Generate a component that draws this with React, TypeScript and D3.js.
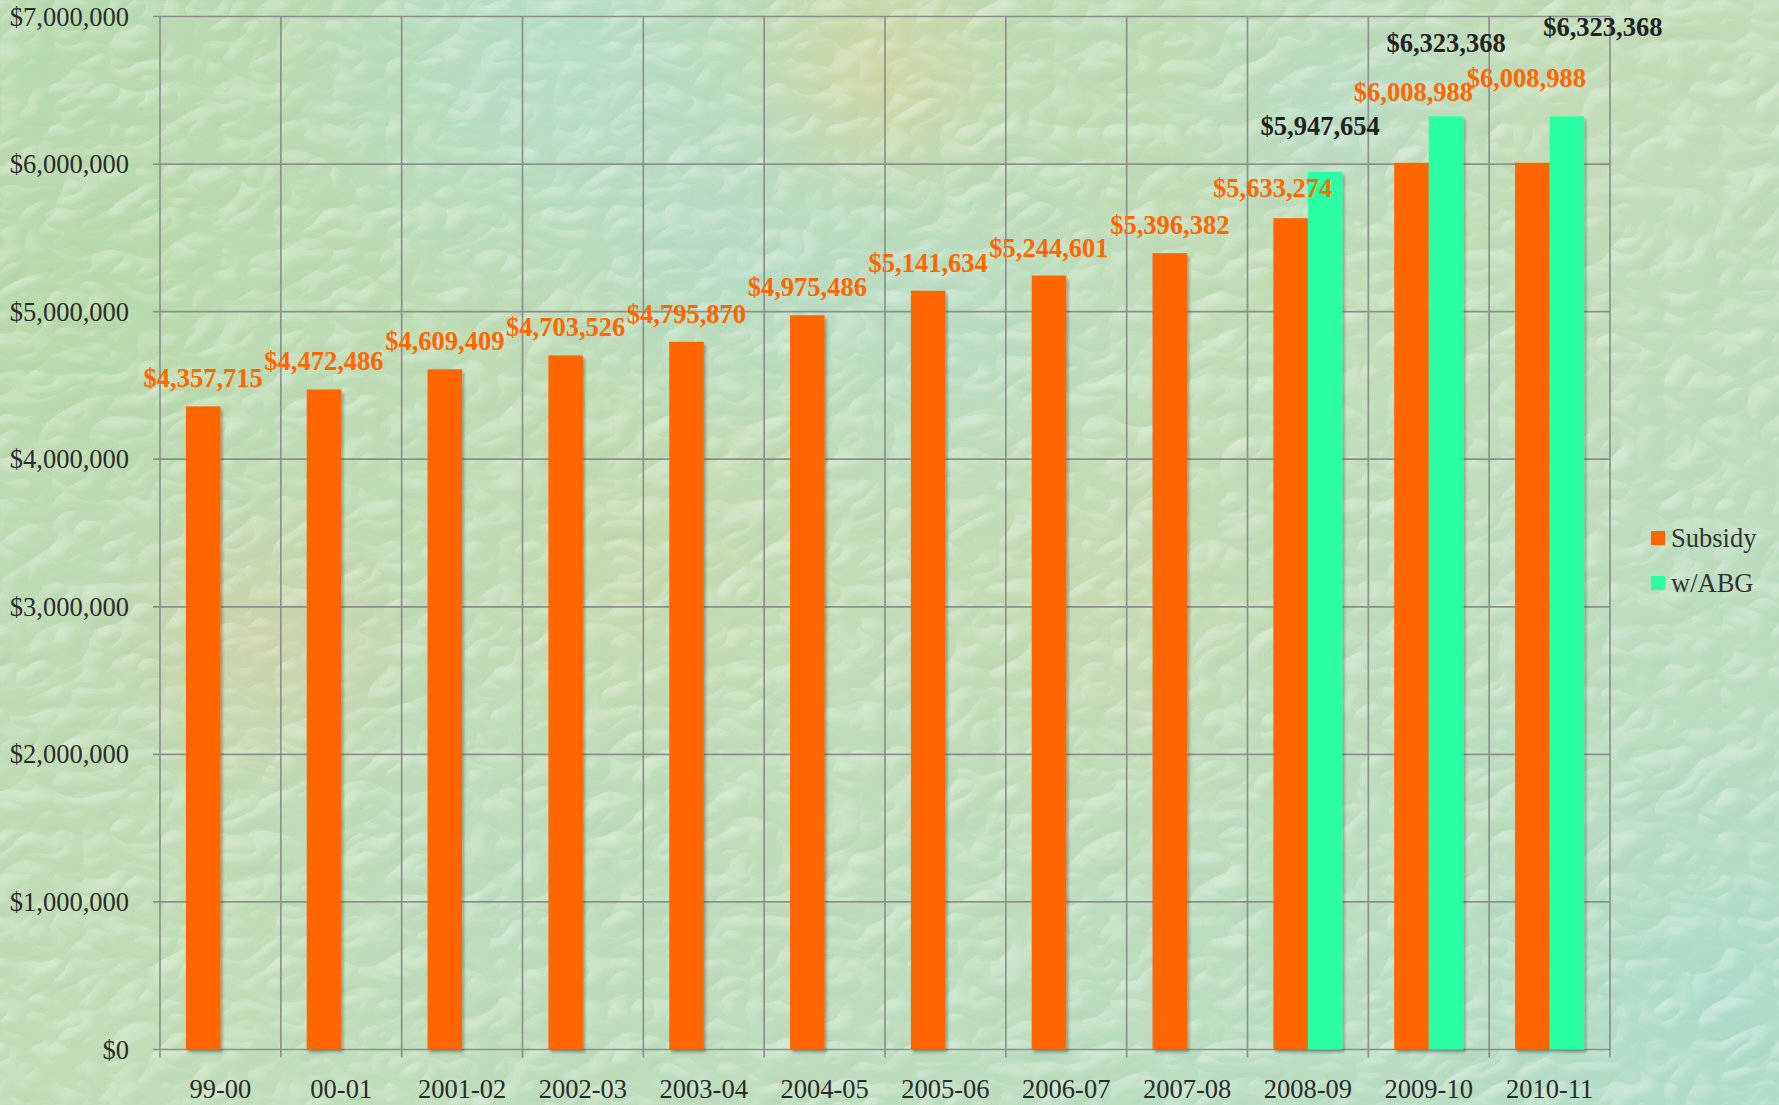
import React from "react";
import * as d3 from "d3";

// fiscal years on the x axis
const categories = [
  "99-00",
  "00-01",
  "2001-02",
  "2002-03",
  "2003-04",
  "2004-05",
  "2005-06",
  "2006-07",
  "2007-08",
  "2008-09",
  "2009-10",
  "2010-11",
];

const seriesNames = ["Subsidy", "w/ABG"];

const subsidy = [
  4357715, 4472486, 4609409, 4703526, 4795870, 4975486, 5141634, 5244601,
  5396382, 5633274, 6008988, 6008988,
];

const withAbg = [
  null, null, null, null, null, null, null, null, null, 5947654, 6323368,
  6323368,
];

const yTicks = [0, 1000000, 2000000, 3000000, 4000000, 5000000, 6000000, 7000000];

// hand placed label nudges from the original: [dx, gap above bar]
const subsidyLabelNudge = [
  [0, 19], [0, 19], [0, 19], [0, 19], [0, 19], [0, 19],
  [0, 19], [0, 19], [0, 19], [-18, 21], [2, 62], [-6, 76],
];
const abgLabelNudge = [
  [0, 19], [0, 19], [0, 19], [0, 19], [0, 19], [0, 19],
  [0, 19], [0, 19], [0, 19], [-5, 37], [0, 64], [36, 80],
];

const W = 1779;
const H = 1105;
const plot = { left: 160, right: 1610, top: 16.5, bottom: 1049.5 };
const colors = { Subsidy: "#ff6600", "w/ABG": "#29ffa3" };
const font = '"Liberation Serif", "Times New Roman", serif';
const gridColor = "#8f8f8f";

const money = (v) => "$" + d3.format(",")(v);

// soft coloured patches of the textured backdrop
const blotches = [
  { cx: 560, cy: 60, r: 280, c: "#b2e0dc", o: 0.55 },
  { cx: 880, cy: 70, r: 150, c: "#e2d39a", o: 0.5 },
  { cx: 740, cy: 260, r: 200, c: "#b0dcd8", o: 0.45 },
  { cx: 260, cy: 640, r: 170, c: "#dcc89c", o: 0.45 },
  { cx: 960, cy: 330, r: 220, c: "#b2ddd6", o: 0.4 },
  { cx: 1340, cy: 110, r: 180, c: "#b2ddd8", o: 0.4 },
  { cx: 1120, cy: 620, r: 260, c: "#d4d8a6", o: 0.35 },
  { cx: 650, cy: 560, r: 200, c: "#d0d8a2", o: 0.35 },
  { cx: 1720, cy: 1000, r: 280, c: "#a6dccf", o: 0.6 },
  { cx: 90, cy: 300, r: 220, c: "#b4d8a0", o: 0.45 },
  { cx: 480, cy: 880, r: 240, c: "#b4dcc8", o: 0.35 },
];

export default function App() {
  const x0 = d3.scaleBand().domain(categories).range([plot.left, plot.right]).padding(0);
  const x1 = d3
    .scaleBand()
    .domain(seriesNames)
    .range([0, x0.bandwidth()])
    .paddingInner(0)
    .paddingOuter(0.75);
  const y = d3.scaleLinear().domain([0, 7000000]).range([plot.bottom, plot.top]);

  const series = [
    { name: "Subsidy", values: subsidy, nudge: subsidyLabelNudge, labelColor: "#ff6600" },
    { name: "w/ABG", values: withAbg, nudge: abgLabelNudge, labelColor: "#222222" },
  ];

  const bounds = categories.map((c) => x0(c)).concat([plot.right]);

  return (
    <svg
      width={W}
      height={H}
      style={{ position: "absolute", left: 0, top: 0, display: "block" }}
      fontFamily={font}
    >
      <defs>
        {blotches.map((b, i) => (
          <radialGradient key={i} id={`blot${i}`}>
            <stop offset="0%" stopColor={b.c} stopOpacity={b.o} />
            <stop offset="100%" stopColor={b.c} stopOpacity={0} />
          </radialGradient>
        ))}
        <linearGradient id="bgGrad" x1="0" y1="0" x2="1" y2="1">
          <stop offset="0%" stopColor="#b8dab0" />
          <stop offset="50%" stopColor="#c2ddb8" />
          <stop offset="100%" stopColor="#b8ddc6" />
        </linearGradient>
        {/* embossed stucco look: bright facets turned into white, dark ones into shade */}
        <filter id="stuccoHi" x="0" y="0" width="100%" height="100%">
          <feTurbulence type="turbulence" baseFrequency="0.018 0.024" numOctaves="2" seed="11" result="noise" />
          <feDiffuseLighting in="noise" lightingColor="#ffffff" surfaceScale="6" result="light">
            <feDistantLight azimuth="235" elevation="40" />
          </feDiffuseLighting>
          <feColorMatrix
            in="light"
            type="matrix"
            values="0 0 0 0 1  0 0 0 0 1  0 0 0 0 1  2.2 0 0 0 -1.35"
          />
        </filter>
        <filter id="stuccoLo" x="0" y="0" width="100%" height="100%">
          <feTurbulence type="turbulence" baseFrequency="0.018 0.024" numOctaves="2" seed="11" result="noise" />
          <feDiffuseLighting in="noise" lightingColor="#ffffff" surfaceScale="6" result="light">
            <feDistantLight azimuth="235" elevation="40" />
          </feDiffuseLighting>
          <feColorMatrix
            in="light"
            type="matrix"
            values="0 0 0 0 0.3  0 0 0 0 0.4  0 0 0 0 0.3  -1.4 0 0 0 0.75"
          />
        </filter>
        <filter id="barShadow" x="-20%" y="-5%" width="150%" height="115%">
          <feDropShadow dx="2" dy="3" stdDeviation="1.5" floodColor="#000" floodOpacity="0.3" />
        </filter>
      </defs>

      {/* backdrop */}
      <rect width={W} height={H} fill="url(#bgGrad)" />
      {blotches.map((b, i) => (
        <circle key={i} cx={b.cx} cy={b.cy} r={b.r} fill={`url(#blot${i})`} />
      ))}
      <rect width={W} height={H} filter="url(#stuccoHi)" opacity={0.45} />
      <rect width={W} height={H} filter="url(#stuccoLo)" opacity={0.2} />

      {/* grid */}
      <g stroke={gridColor} strokeWidth={1.7}>
        {yTicks.map((t) => (
          <line key={t} x1={plot.left - 7} x2={plot.right} y1={y(t)} y2={y(t)} />
        ))}
        {bounds.map((bx, i) => (
          <line key={i} x1={bx} x2={bx} y1={plot.top} y2={plot.bottom + 8} />
        ))}
      </g>

      {/* y tick labels */}
      <g fontSize={26.5} fill="#2b2b2b" textAnchor="end">
        {yTicks.map((t) => (
          <text key={t} x={plot.left - 31} y={y(t)} dy="0.34em">
            {money(t)}
          </text>
        ))}
      </g>

      {/* x tick labels */}
      <g fontSize={26.5} fill="#2b2b2b" textAnchor="middle">
        {categories.map((c) => (
          <text key={c} x={x0(c) + x0.bandwidth() / 2} y={1098}>
            {c}
          </text>
        ))}
      </g>

      {/* bars */}
      <g filter="url(#barShadow)">
        {series.map((s) =>
          s.values.map((v, i) =>
            v == null ? null : (
              <rect
                key={s.name + i}
                x={x0(categories[i]) + x1(s.name)}
                y={y(v)}
                width={x1.bandwidth()}
                height={y(0) - y(v)}
                fill={colors[s.name]}
              />
            )
          )
        )}
      </g>

      {/* value labels */}
      <g fontSize={26.5} fontWeight="bold" textAnchor="middle">
        {series.map((s) =>
          s.values.map((v, i) =>
            v == null ? null : (
              <text
                key={s.name + i}
                x={x0(categories[i]) + x1(s.name) + x1.bandwidth() / 2 + s.nudge[i][0]}
                y={y(v) - s.nudge[i][1]}
                fill={s.labelColor}
              >
                {money(v)}
              </text>
            )
          )
        )}
      </g>

      {/* legend */}
      <g fontSize={26.5} fill="#333">
        {seriesNames.map((n, i) => (
          <g key={n} transform={`translate(1651, ${531 + i * 45})`}>
            <rect width={14} height={14} fill={colors[n]} />
            <text x={20} y={16}>
              {n}
            </text>
          </g>
        ))}
      </g>
    </svg>
  );
}
